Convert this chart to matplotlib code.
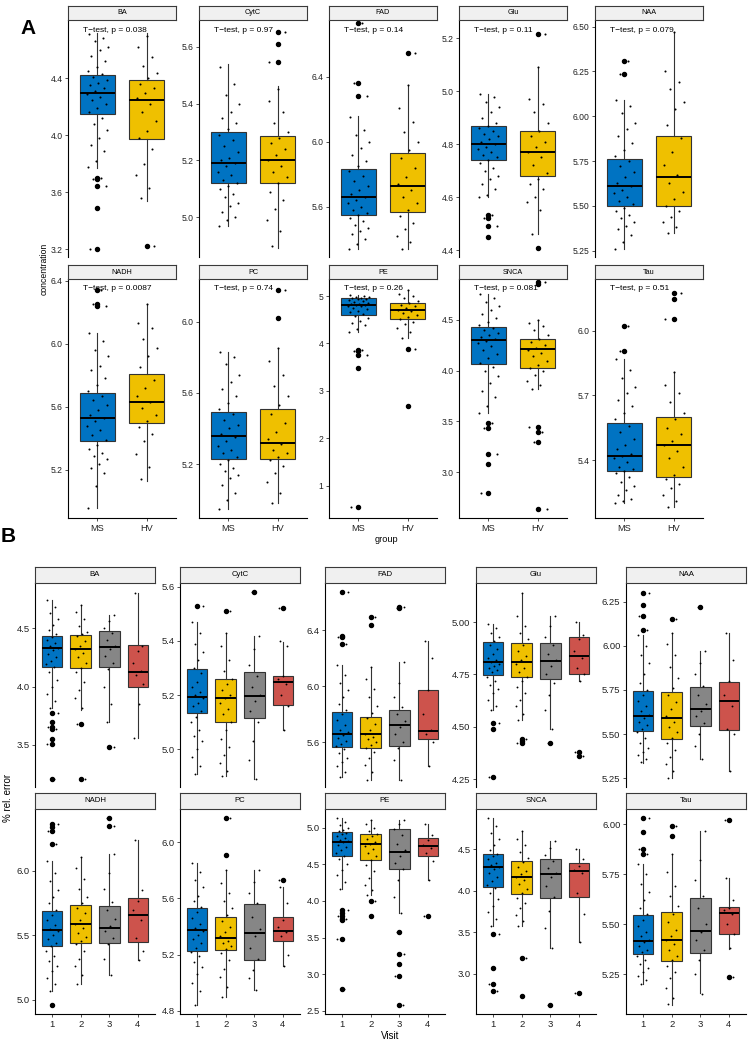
import matplotlib
matplotlib.use("Agg")
import matplotlib.pyplot as plt

plt.rcParams['font.family'] = ['Liberation Sans', 'DejaVu Sans']

# ---------------- data: panel A ----------------
A_facets = ["BA", "CytC", "FAD", "Glu", "NAA", "NADH", "PC", "PE", "SNCA", "Tau"]
A_groups = ["MS", "HV"]
A_pvalues = ["0.038", "0.97", "0.14", "0.11", "0.079", "0.0087", "0.74", "0.26", "0.081", "0.51"]
A_whislo = [[3.77, 3.54], [4.97, 4.89], [5.34, 5.34], [4.60, 4.46], [5.26, 5.35],
            [4.96, 5.13], [4.95, 4.98], [4.25, 4.12], [3.58, 3.82], [5.20, 5.18]]
A_q1 = [[4.15, 3.97], [5.12, 5.12], [5.55, 5.57], [4.74, 4.68], [5.50, 5.50],
        [5.38, 5.50], [5.23, 5.23], [4.61, 4.51], [4.07, 4.03], [5.35, 5.32]]
A_med = [[4.30, 4.25], [5.19, 5.20], [5.66, 5.73], [4.80, 4.77], [5.61, 5.66],
         [5.53, 5.63], [5.36, 5.32], [4.82, 4.70], [4.30, 4.21], [5.42, 5.47]]
A_q3 = [[4.42, 4.39], [5.30, 5.285], [5.83, 5.93], [4.87, 4.85], [5.76, 5.89],
        [5.69, 5.81], [5.49, 5.51], [4.95, 4.86], [4.43, 4.31], [5.57, 5.60]]
A_whishi = [[4.72, 4.72], [5.54, 5.46], [6.16, 6.35], [4.99, 5.09], [6.09, 6.47],
            [6.07, 6.25], [5.83, 5.85], [5.03, 5.13], [4.76, 4.50], [5.87, 5.81]]
A_outliers = [
    [[3.70, 3.69, 3.64, 3.49, 3.20], [3.22]],
    [[], [5.653, 5.608, 5.547]],
    [[6.73, 6.36, 6.28], [6.544]],
    [[4.533, 4.52, 4.49, 4.45], [5.216, 4.407]],
    [[6.307, 6.233], []],
    [[6.341, 6.253, 6.236], []],
    [[], [6.178, 6.019]],
    [[3.87, 3.84, 3.75, 3.48, 0.54], [3.88, 2.69]],
    [[3.48, 3.43, 3.18, 3.08, 2.79], [4.87, 4.85, 3.44, 3.40, 3.30, 2.64]],
    [[6.025, 5.907], [6.176, 6.15, 6.056]],
]
A_ylim = [(3.144, 4.81), (4.86, 5.694), (5.29, 6.749), (4.374, 5.269), (5.215, 6.537),
          (4.895, 6.41), (4.897, 6.239), (0.317, 5.36), (2.547, 4.904), (5.131, 6.241)]
A_yticks = [[3.2, 3.6, 4.0, 4.4], [5.0, 5.2, 5.4, 5.6], [5.6, 6.0, 6.4], [4.4, 4.6, 4.8, 5.0, 5.2],
            [5.25, 5.50, 5.75, 6.00, 6.25, 6.50], [5.2, 5.6, 6.0, 6.4], [5.2, 5.6, 6.0],
            [1, 2, 3, 4, 5], [3.0, 3.5, 4.0, 4.5], [5.4, 5.7, 6.0]]
A_ydec = [1, 1, 1, 1, 2, 1, 1, 0, 1, 1]

A_pts_BA = [[4.71, 4.68, 4.66, 4.62, 4.60, 4.56, 4.52, 4.48, 4.45, 4.43, 4.41, 4.39, 4.37, 4.35, 4.33,
             4.31, 4.29, 4.27, 4.25, 4.22, 4.19, 4.16, 4.12, 4.08, 4.04, 3.98, 3.93, 3.89, 3.82, 3.78],
            [4.70, 4.62, 4.55, 4.49, 4.44, 4.40, 4.36, 4.33, 4.30, 4.26, 4.22, 4.16, 4.10, 4.03, 3.98,
             3.90, 3.80, 3.72, 3.63, 3.56]]
A_pts_CytC = [[5.53, 5.47, 5.43, 5.40, 5.37, 5.35, 5.33, 5.31, 5.29, 5.27, 5.25, 5.23, 5.21, 5.20, 5.19,
               5.18, 5.16, 5.15, 5.13, 5.12, 5.11, 5.10, 5.08, 5.07, 5.05, 5.04, 5.02, 5.00, 4.99, 4.97],
              [5.45, 5.41, 5.37, 5.33, 5.30, 5.28, 5.26, 5.24, 5.22, 5.20, 5.18, 5.16, 5.14, 5.12, 5.09,
               5.06, 5.03, 4.99, 4.95, 4.90]]
A_pts_FAD = [[6.15, 6.07, 6.04, 6.00, 5.96, 5.92, 5.88, 5.85, 5.82, 5.79, 5.76, 5.73, 5.70, 5.68, 5.66,
              5.64, 5.62, 5.60, 5.58, 5.56, 5.55, 5.53, 5.51, 5.49, 5.47, 5.45, 5.43, 5.40, 5.37, 5.34],
             [6.35, 6.21, 6.12, 6.06, 6.00, 5.95, 5.90, 5.84, 5.78, 5.74, 5.70, 5.66, 5.62, 5.58, 5.54,
              5.50, 5.46, 5.42, 5.38, 5.34]]
A_pts_Glu = [[4.99, 4.98, 4.96, 4.94, 4.92, 4.90, 4.88, 4.87, 4.86, 4.85, 4.84, 4.83, 4.82, 4.81, 4.80,
              4.79, 4.78, 4.77, 4.76, 4.75, 4.74, 4.73, 4.71, 4.70, 4.68, 4.67, 4.65, 4.63, 4.61, 4.60],
             [5.09, 4.97, 4.95, 4.92, 4.88, 4.85, 4.83, 4.81, 4.79, 4.77, 4.75, 4.72, 4.69, 4.67, 4.65,
              4.63, 4.60, 4.58, 4.55, 4.46]]
A_pts_NAA = [[6.09, 6.06, 6.02, 5.96, 5.93, 5.89, 5.85, 5.81, 5.78, 5.75, 5.72, 5.69, 5.66, 5.63, 5.61,
              5.59, 5.57, 5.55, 5.53, 5.51, 5.49, 5.47, 5.45, 5.43, 5.41, 5.39, 5.37, 5.34, 5.30, 5.26],
             [6.47, 6.25, 6.19, 6.15, 6.08, 6.04, 5.95, 5.88, 5.80, 5.73, 5.67, 5.63, 5.58, 5.54, 5.50,
              5.47, 5.44, 5.41, 5.38, 5.35]]
A_pts_NADH = [[6.07, 6.02, 5.96, 5.92, 5.86, 5.83, 5.78, 5.74, 5.70, 5.67, 5.64, 5.61, 5.58, 5.55, 5.53,
               5.51, 5.48, 5.45, 5.42, 5.39, 5.36, 5.33, 5.31, 5.29, 5.27, 5.24, 5.21, 5.18, 5.10, 4.96],
              [6.25, 6.13, 6.10, 6.03, 5.97, 5.92, 5.85, 5.77, 5.72, 5.67, 5.63, 5.59, 5.55, 5.51, 5.47,
               5.43, 5.38, 5.30, 5.22, 5.14]]
A_pts_PC = [[5.83, 5.80, 5.76, 5.70, 5.66, 5.62, 5.58, 5.54, 5.51, 5.48, 5.45, 5.42, 5.40, 5.37, 5.35,
             5.33, 5.30, 5.28, 5.26, 5.24, 5.22, 5.20, 5.18, 5.16, 5.14, 5.12, 5.08, 5.04, 5.00, 4.95],
            [5.85, 5.78, 5.70, 5.64, 5.58, 5.53, 5.48, 5.43, 5.38, 5.34, 5.31, 5.28, 5.26, 5.24, 5.22,
             5.19, 5.15, 5.10, 5.04, 4.98]]
A_pts_PE = [[5.03, 5.01, 4.99, 4.97, 4.96, 4.95, 4.94, 4.93, 4.91, 4.89, 4.87, 4.85, 4.84, 4.83, 4.82,
             4.81, 4.80, 4.78, 4.75, 4.72, 4.69, 4.66, 4.62, 4.58, 4.53, 4.48, 4.43, 4.38, 4.31, 4.25],
            [5.13, 5.05, 5.00, 4.95, 4.90, 4.86, 4.82, 4.78, 4.74, 4.71, 4.68, 4.64, 4.60, 4.55, 4.51,
             4.46, 4.40, 4.33, 4.24, 4.12]]
A_pts_SNCA = [[4.76, 4.72, 4.68, 4.64, 4.60, 4.56, 4.52, 4.48, 4.45, 4.42, 4.40, 4.37, 4.35, 4.33, 4.31,
               4.29, 4.27, 4.24, 4.20, 4.16, 4.12, 4.08, 4.04, 4.00, 3.95, 3.88, 3.80, 3.74, 3.65, 3.58],
              [4.50, 4.47, 4.44, 4.40, 4.35, 4.31, 4.28, 4.25, 4.22, 4.20, 4.17, 4.14, 4.10, 4.06, 4.03,
               4.00, 3.96, 3.90, 3.86, 3.82]]
A_pts_Tau = [[5.87, 5.82, 5.78, 5.74, 5.71, 5.68, 5.65, 5.62, 5.59, 5.56, 5.53, 5.50, 5.47, 5.45, 5.43,
              5.42, 5.41, 5.39, 5.37, 5.36, 5.35, 5.34, 5.32, 5.30, 5.28, 5.26, 5.24, 5.22, 5.21, 5.20],
             [5.81, 5.75, 5.71, 5.67, 5.62, 5.59, 5.55, 5.52, 5.49, 5.47, 5.44, 5.41, 5.37, 5.33, 5.31,
              5.29, 5.27, 5.24, 5.21, 5.18]]
A_points = [A_pts_BA, A_pts_CytC, A_pts_FAD, A_pts_Glu, A_pts_NAA,
            A_pts_NADH, A_pts_PC, A_pts_PE, A_pts_SNCA, A_pts_Tau]

# ---------------- data: panel B ----------------
B_facets = ["BA", "CytC", "FAD", "Glu", "NAA", "NADH", "PC", "PE", "SNCA", "Tau"]
B_visits = ["1", "2", "3", "4"]
B_whislo = [[3.82, 3.80, 3.70, 3.56], [4.91, 4.90, 4.89, 5.07], [5.35, 5.33, 5.33, 5.43],
            [4.58, 4.53, 4.49, 4.72], [5.335, 5.25, 5.36, 5.29], [5.07, 5.12, 5.19, 5.31],
            [4.84, 4.90, 4.95, 5.12], [4.16, 4.08, 3.84, 4.29], [3.58, 3.58, 3.31, 3.38],
            [5.20, 5.095, 5.153, 5.375]]
B_q1 = [[4.168, 4.155, 4.163, 4.00], [5.135, 5.10, 5.117, 5.165], [5.565, 5.56, 5.57, 5.62],
        [4.745, 4.74, 4.73, 4.75], [5.52, 5.47, 5.545, 5.525], [5.42, 5.44, 5.44, 5.45],
        [5.224, 5.23, 5.165, 5.30], [4.62, 4.56, 4.44, 4.61], [4.05, 3.96, 3.92, 3.93],
        [5.35, 5.315, 5.353, 5.45]]
B_med = [[4.33, 4.32, 4.334, 4.125], [5.195, 5.19, 5.198, 5.248], [5.66, 5.66, 5.72, 5.68],
         [4.808, 4.81, 4.815, 4.84], [5.605, 5.59, 5.64, 5.69], [5.54, 5.585, 5.56, 5.66],
         [5.375, 5.32, 5.354, 5.37], [4.81, 4.78, 4.67, 4.75], [4.29, 4.17, 4.20, 4.24],
         [5.417, 5.42, 5.467, 5.557]]
B_q3 = [[4.43, 4.44, 4.477, 4.354], [5.295, 5.258, 5.285, 5.27], [5.817, 5.78, 5.827, 5.97],
        [4.907, 4.90, 4.90, 4.93], [5.745, 5.74, 5.765, 5.795], [5.69, 5.735, 5.73, 5.79],
        [5.53, 5.47, 5.56, 5.47], [4.94, 4.92, 4.98, 4.855], [4.44, 4.36, 4.38, 4.33],
        [5.545, 5.56, 5.63, 5.583]]
B_whishi = [[4.74, 4.70, 4.61, 4.80], [5.47, 5.43, 5.42, 5.395], [6.15, 6.14, 6.17, 6.32],
            [4.99, 5.14, 5.03, 5.00], [6.06, 6.07, 5.97, 6.07], [6.08, 6.11, 6.13, 6.24],
            [5.85, 5.80, 5.80, 5.68], [5.13, 5.10, 5.10, 5.05], [4.88, 4.72, 4.60, 4.51],
            [5.80, 5.85, 5.965, 5.73]]
B_outliers = [
    [[3.77, 3.694, 3.65, 3.634, 3.55, 3.506, 3.21], [3.68, 3.21], [3.48], []],
    [[5.53], [5.51], [5.58], [5.523]],
    [[6.67, 6.36, 6.35, 6.30], [6.49, 6.436], [6.56, 6.565], []],
    [[4.52, 4.49, 4.26], [4.44, 4.43, 4.42], [4.42], [4.38, 4.36]],
    [[6.30, 6.23, 6.17, 6.09], [6.15], [6.22], []],
    [[6.36, 6.34, 6.31, 6.21, 4.96], [], [6.41, 6.35], []],
    [[], [6.17, 5.91], [], [5.73]],
    [[3.88, 3.84, 3.80, 3.76, 3.74, 3.48, 2.80], [4.0, 3.79], [3.58, 3.27, 3.14, 2.97, 2.58], [3.79]],
    [[3.48, 3.07, 2.88, 2.79], [3.19, 2.73], [2.63], [2.77]],
    [[6.03, 5.96, 5.875, 5.85], [5.99, 5.94], [], [6.02, 5.234]],
]
B_ylim = [(3.14, 4.886), (4.861, 5.614), (5.28, 6.736), (4.212, 5.187), (5.20, 6.356),
          (4.89, 6.48), (4.777, 6.237), (2.455, 5.257), (2.518, 4.986), (5.05, 6.075)]
B_yticks = [[3.5, 4.0, 4.5], [5.0, 5.2, 5.4, 5.6], [5.6, 6.0, 6.4], [4.25, 4.50, 4.75, 5.00],
            [5.25, 5.50, 5.75, 6.00, 6.25], [5.0, 5.5, 6.0], [4.8, 5.2, 5.6, 6.0],
            [2.5, 3.0, 3.5, 4.0, 4.5, 5.0], [3.0, 3.5, 4.0, 4.5], [5.25, 5.50, 5.75, 6.00]]
B_ydec = [1, 1, 1, 2, 2, 1, 1, 1, 1, 2]

B_pts_BA = [[4.74, 4.68, 4.63, 4.58, 4.53, 4.48, 4.45, 4.42, 4.40, 4.37, 4.35, 4.33, 4.31, 4.28, 4.25,
             4.22, 4.19, 4.17, 4.12, 4.06, 4.00, 3.94, 3.88, 3.82],
            [4.70, 4.64, 4.58, 4.52, 4.47, 4.45, 4.43, 4.39, 4.35, 4.32, 4.29, 4.25, 4.20, 4.16, 4.12,
             4.04, 3.97, 3.90, 3.82],
            [4.61, 4.56, 4.50, 4.46, 4.40, 4.35, 4.32, 4.26, 4.20, 4.15, 4.00, 3.85, 3.70],
            [4.80, 4.35, 4.30, 4.20, 4.13, 4.10, 4.02, 3.85, 3.56]]
B_pts_CytC = [[5.47, 5.43, 5.39, 5.36, 5.33, 5.30, 5.28, 5.25, 5.23, 5.21, 5.20, 5.19, 5.17, 5.16, 5.14,
               5.12, 5.10, 5.07, 5.05, 5.03, 5.00, 4.97, 4.94, 4.91],
              [5.43, 5.38, 5.33, 5.29, 5.26, 5.24, 5.22, 5.20, 5.19, 5.17, 5.15, 5.13, 5.10, 5.07, 5.04,
               5.01, 4.98, 4.95, 4.92, 4.90],
              [5.42, 5.37, 5.31, 5.27, 5.23, 5.20, 5.18, 5.14, 5.10, 5.03, 4.96, 4.89],
              [5.40, 5.38, 5.27, 5.26, 5.24, 5.20, 5.16, 5.07]]
B_pts_FAD = [[6.15, 6.08, 6.02, 5.97, 5.92, 5.87, 5.83, 5.80, 5.76, 5.72, 5.69, 5.67, 5.65, 5.63, 5.61,
              5.59, 5.57, 5.55, 5.52, 5.49, 5.46, 5.43, 5.39, 5.35],
             [6.14, 6.05, 5.98, 5.92, 5.86, 5.81, 5.77, 5.73, 5.69, 5.66, 5.64, 5.62, 5.60, 5.58, 5.56,
              5.53, 5.49, 5.44, 5.39, 5.33],
             [6.17, 6.02, 5.92, 5.85, 5.80, 5.75, 5.71, 5.66, 5.60, 5.56, 5.47, 5.33],
             [6.32, 6.20, 5.97, 5.80, 5.69, 5.66, 5.60, 5.43]]
B_pts_Glu = [[4.99, 4.97, 4.95, 4.93, 4.91, 4.89, 4.87, 4.85, 4.83, 4.82, 4.81, 4.80, 4.79, 4.78, 4.77,
              4.76, 4.74, 4.72, 4.70, 4.68, 4.66, 4.63, 4.60, 4.58],
             [5.14, 5.03, 4.98, 4.95, 4.92, 4.89, 4.86, 4.84, 4.82, 4.80, 4.78, 4.76, 4.74, 4.72, 4.69,
              4.66, 4.63, 4.60, 4.56, 4.53],
             [5.03, 4.98, 4.93, 4.89, 4.85, 4.82, 4.79, 4.75, 4.71, 4.65, 4.58, 4.49],
             [5.00, 4.94, 4.92, 4.86, 4.83, 4.78, 4.75, 4.72]]
B_pts_NAA = [[6.06, 6.00, 5.95, 5.90, 5.84, 5.79, 5.75, 5.72, 5.69, 5.66, 5.63, 5.61, 5.59, 5.57, 5.55,
              5.53, 5.51, 5.48, 5.45, 5.42, 5.40, 5.38, 5.36, 5.34],
             [6.07, 6.01, 5.95, 5.88, 5.82, 5.76, 5.72, 5.68, 5.64, 5.60, 5.57, 5.54, 5.51, 5.48, 5.45,
              5.41, 5.37, 5.33, 5.29, 5.25],
             [5.97, 5.90, 5.84, 5.77, 5.72, 5.67, 5.63, 5.60, 5.56, 5.50, 5.43, 5.36],
             [6.07, 5.92, 5.80, 5.72, 5.66, 5.53, 5.50, 5.29]]
B_pts_NADH = [[6.08, 5.98, 5.92, 5.85, 5.80, 5.75, 5.70, 5.66, 5.62, 5.58, 5.55, 5.53, 5.50, 5.47, 5.44,
               5.42, 5.38, 5.34, 5.30, 5.26, 5.22, 5.17, 5.12, 5.07],
              [6.11, 6.02, 5.94, 5.86, 5.80, 5.75, 5.71, 5.67, 5.62, 5.59, 5.56, 5.52, 5.49, 5.46, 5.43,
               5.38, 5.32, 5.26, 5.19, 5.12],
              [6.13, 5.98, 5.86, 5.76, 5.70, 5.63, 5.57, 5.53, 5.48, 5.43, 5.32, 5.19],
              [6.24, 5.85, 5.77, 5.70, 5.62, 5.48, 5.38, 5.31]]
B_pts_PC = [[5.85, 5.79, 5.73, 5.68, 5.62, 5.58, 5.54, 5.50, 5.46, 5.42, 5.39, 5.37, 5.34, 5.31, 5.28,
             5.25, 5.22, 5.19, 5.15, 5.11, 5.06, 5.00, 4.94, 4.84],
            [5.80, 5.71, 5.64, 5.58, 5.53, 5.48, 5.44, 5.40, 5.36, 5.33, 5.30, 5.28, 5.26, 5.24, 5.21,
             5.16, 5.10, 5.04, 4.97, 4.90],
            [5.80, 5.72, 5.64, 5.57, 5.47, 5.38, 5.33, 5.25, 5.17, 5.09, 5.03, 4.95],
            [5.68, 5.57, 5.45, 5.40, 5.36, 5.33, 5.20, 5.12]]
B_pts_PE = [[5.13, 5.08, 5.04, 5.00, 4.97, 4.95, 4.93, 4.91, 4.89, 4.86, 4.84, 4.82, 4.80, 4.77, 4.74,
             4.70, 4.66, 4.62, 4.57, 4.50, 4.43, 4.35, 4.26, 4.16],
            [5.10, 5.05, 5.00, 4.96, 4.92, 4.89, 4.85, 4.81, 4.78, 4.75, 4.71, 4.66, 4.61, 4.56, 4.49,
             4.41, 4.32, 4.22, 4.15, 4.08],
            [5.10, 5.05, 4.99, 4.90, 4.78, 4.69, 4.62, 4.52, 4.44, 4.28, 4.05, 3.84],
            [5.05, 4.90, 4.84, 4.77, 4.73, 4.65, 4.55, 4.29]]
B_pts_SNCA = [[4.88, 4.78, 4.70, 4.62, 4.55, 4.49, 4.45, 4.42, 4.38, 4.34, 4.31, 4.29, 4.26, 4.22, 4.17,
               4.12, 4.07, 4.03, 3.97, 3.90, 3.82, 3.74, 3.66, 3.58],
              [4.72, 4.63, 4.55, 4.47, 4.40, 4.35, 4.29, 4.24, 4.20, 4.17, 4.13, 4.08, 4.02, 3.97, 3.92,
               3.86, 3.79, 3.71, 3.64, 3.58],
              [4.60, 4.52, 4.43, 4.36, 4.28, 4.22, 4.17, 4.06, 3.93, 3.76, 3.55, 3.31],
              [4.51, 4.38, 4.30, 4.25, 4.22, 3.98, 3.72, 3.38]]
B_pts_Tau = [[5.80, 5.75, 5.70, 5.66, 5.62, 5.58, 5.55, 5.52, 5.49, 5.46, 5.44, 5.42, 5.41, 5.39, 5.37,
              5.36, 5.34, 5.32, 5.30, 5.28, 5.26, 5.24, 5.22, 5.20],
             [5.85, 5.76, 5.69, 5.64, 5.59, 5.55, 5.51, 5.47, 5.44, 5.42, 5.40, 5.37, 5.34, 5.32, 5.29,
              5.26, 5.23, 5.18, 5.13, 5.10],
             [5.965, 5.82, 5.72, 5.64, 5.58, 5.50, 5.46, 5.42, 5.37, 5.32, 5.25, 5.15],
             [5.73, 5.62, 5.58, 5.57, 5.55, 5.50, 5.45, 5.38]]
B_points = [B_pts_BA, B_pts_CytC, B_pts_FAD, B_pts_Glu, B_pts_NAA,
            B_pts_NADH, B_pts_PC, B_pts_PE, B_pts_SNCA, B_pts_Tau]

# ---------------- styling / layout ----------------
W, H = 748, 1041
COLORS = ['#0073C2', '#EFC000', '#868686', '#CD534C']
EDGE = '#333333'

fig = plt.figure(figsize=(W / 100, H / 100), dpi=100)


def add_ax(left, top, width, height):
    return fig.add_axes([left / W, 1 - (top + height) / H, width / W, height / H])


def draw_strip(left, top, width, height, label, fs):
    s = add_ax(left, top, width, height)
    s.set_facecolor('#F0F0F0')
    s.set_xticks([])
    s.set_yticks([])
    for sp in s.spines.values():
        sp.set_color('#3a3a3a')
        sp.set_linewidth(0.8)
    s.text(0.5, 0.5, label, ha='center', va='center', fontsize=fs, transform=s.transAxes)


def draw_facet(ax, k, whislo, q1, med, q3, whishi, outliers, points, ylim, yticks, ydec,
               cats, bottom_row, tick_fs, xfs, box_w, dot_s):
    n = len(cats)
    stats = []
    for i in range(n):
        stats.append(dict(med=med[k][i], q1=q1[k][i], q3=q3[k][i],
                          whislo=whislo[k][i], whishi=whishi[k][i], fliers=outliers[k][i]))
    pos = list(range(1, n + 1))
    res = ax.bxp(stats, positions=pos, widths=box_w, patch_artist=True, showcaps=False,
                 boxprops=dict(edgecolor=EDGE, linewidth=0.8),
                 whiskerprops=dict(color=EDGE, linewidth=0.8),
                 medianprops=dict(color='black', linewidth=1.4),
                 flierprops=dict(marker='o', markerfacecolor='black', markeredgecolor='black',
                                 markersize=2.9, linestyle='none'))
    for i, b in enumerate(res['boxes']):
        b.set_facecolor(COLORS[i])
    golden = 0.61803398875
    for i in range(n):
        vals = list(points[k][i]) + list(outliers[k][i])
        xs = [pos[i] + (((j * golden + 0.37 * i + 0.13) % 1.0) - 0.5) * 0.44 for j in range(len(vals))]
        ax.scatter(xs, vals, s=dot_s, c='black', linewidths=0, zorder=6)
    ax.set_xlim(0.4, n + 0.6)
    ax.set_ylim(*ylim[k])
    ax.set_yticks(yticks[k])
    ax.set_yticklabels([f"{v:.{ydec[k]}f}" for v in yticks[k]])
    ax.spines['top'].set_visible(False)
    ax.spines['right'].set_visible(False)
    ax.spines['left'].set_color('black')
    ax.spines['left'].set_linewidth(0.8)
    ax.tick_params(axis='y', direction='out', length=2.5, width=0.6, colors=EDGE,
                   labelsize=tick_fs, labelcolor='#222222', pad=1.5)
    if bottom_row:
        ax.spines['bottom'].set_color('black')
        ax.spines['bottom'].set_linewidth(0.8)
        ax.set_xticks(pos)
        ax.set_xticklabels(cats)
        ax.tick_params(axis='x', direction='out', length=2.5, width=0.6, colors=EDGE,
                       labelsize=xfs, labelcolor='#222222', pad=1.5)
    else:
        ax.spines['bottom'].set_visible(False)
        ax.set_xticks([])
    ax.set_facecolor('none')


# ---- Panel A ----
A_left = [68, 199, 329, 459, 595]
A_w = 108
A_rows = [(20, 257), (279, 518)]
A_strip_h = 14
for k in range(10):
    r, c = divmod(k, 5)
    top, bot = A_rows[r]
    ax = add_ax(A_left[c], top, A_w, bot - top)
    draw_facet(ax, k, A_whislo, A_q1, A_med, A_q3, A_whishi, A_outliers, A_points,
               A_ylim, A_yticks, A_ydec, A_groups, r == 1, 6.2, 6.6, 0.72, 2.2)
    ax.text(15 / A_w, 1 - 10 / (bot - top), f"T\u2212test, p = {A_pvalues[k]}",
            transform=ax.transAxes, ha='left', va='center', fontsize=6.0, zorder=7)
    draw_strip(A_left[c], top - A_strip_h, A_w, A_strip_h, A_facets[k], 5.2)

# ---- Panel B ----
B_left = [35, 180, 325, 476, 626]
B_w = 120
B_rows = [(583, 787), (809, 1014)]
B_strip_h = 16
for k in range(10):
    r, c = divmod(k, 5)
    top, bot = B_rows[r]
    ax = add_ax(B_left[c], top, B_w, bot - top)
    draw_facet(ax, k, B_whislo, B_q1, B_med, B_q3, B_whishi, B_outliers, B_points,
               B_ylim, B_yticks, B_ydec, B_visits, r == 1, 6.8, 6.8, 0.72, 1.8)
    draw_strip(B_left[c], top - B_strip_h, B_w, B_strip_h, B_facets[k], 5.6)

# ---- titles / labels ----
fig.text(28 / W, 1 - 28 / H, 'A', fontsize=15, fontweight='bold', ha='center', va='center')
fig.text(8 / W, 1 - 536 / H, 'B', fontsize=15, fontweight='bold', ha='center', va='center')
fig.text(44 / W, 1 - 269 / H, 'concentration', rotation=90, fontsize=6.2, ha='center', va='center')
fig.text(386 / W, 1 - 539 / H, 'group', fontsize=6.6, ha='center', va='center')
fig.text(8 / W, 1 - 798 / H, '% rel. error', rotation=90, fontsize=7.0, ha='center', va='center')
fig.text(390 / W, 1 - 1036 / H, 'Visit', fontsize=7.0, ha='center', va='center')

fig.savefig('out.png', dpi=100)
